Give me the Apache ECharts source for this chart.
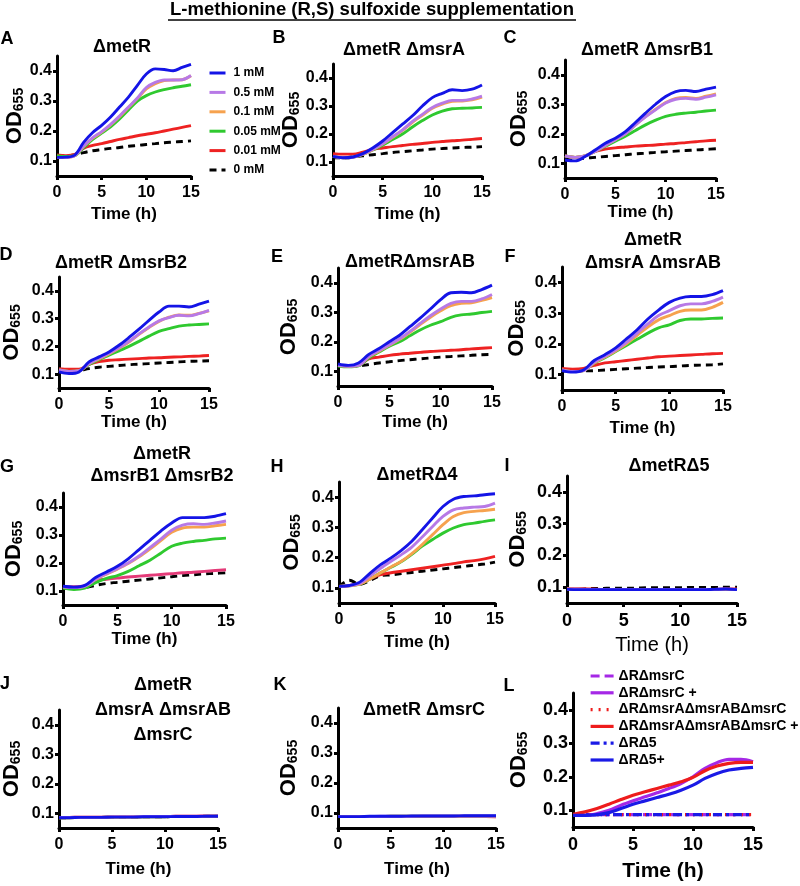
<!DOCTYPE html>
<html><head><meta charset="utf-8">
<script src="https://cdn.jsdelivr.net/npm/echarts@6.0.0/dist/echarts.min.js"></script>
<style>html,body{margin:0;padding:0;background:#fff}#c{width:800px;height:886px}</style>
</head><body><div id="c"></div>
<script>
// ---------- DATA ----------
const hours = [0,1,2,3,4,5,6,7,8,9,10,11,12,13,14,15];
const concNames = ['1 mM','0.5 mM','0.1 mM','0.05 mM','0.01 mM','0 mM'];
const yTickValues = [0.1,0.2,0.3,0.4];
const xTickValues = [0,5,10,15];
const mainTitle = 'L-methionine (R,S) sulfoxide supplementation';

// rows: 1 mM, 0.5 mM, 0.1 mM, 0.05 mM, 0.01 mM, 0 mM
const dataA = [
 [0.112,0.113,0.12,0.163,0.195,0.219,0.247,0.28,0.313,0.352,0.39,0.407,0.405,0.401,0.412,0.422],
 [0.112,0.112,0.118,0.15,0.178,0.198,0.222,0.25,0.28,0.31,0.345,0.362,0.37,0.37,0.371,0.385],
 [0.112,0.112,0.118,0.149,0.176,0.196,0.22,0.248,0.278,0.308,0.34,0.358,0.368,0.37,0.371,0.384],
 [0.118,0.115,0.118,0.145,0.172,0.193,0.214,0.24,0.27,0.3,0.318,0.33,0.338,0.344,0.349,0.354],
 [0.12,0.118,0.122,0.143,0.152,0.158,0.165,0.172,0.178,0.184,0.189,0.194,0.2,0.206,0.212,0.218],
 [0.115,0.117,0.12,0.128,0.134,0.138,0.142,0.145,0.149,0.152,0.155,0.158,0.161,0.163,0.165,0.167]];
const dataB = [
 [0.12,0.115,0.118,0.13,0.15,0.175,0.205,0.235,0.265,0.3,0.33,0.345,0.358,0.355,0.36,0.375],
 [0.12,0.115,0.117,0.128,0.145,0.165,0.19,0.215,0.245,0.27,0.295,0.31,0.32,0.32,0.325,0.335],
 [0.12,0.115,0.117,0.127,0.144,0.164,0.188,0.213,0.242,0.267,0.292,0.307,0.317,0.318,0.322,0.332],
 [0.12,0.115,0.117,0.127,0.143,0.16,0.18,0.2,0.225,0.248,0.268,0.282,0.29,0.292,0.293,0.295],
 [0.13,0.128,0.128,0.135,0.145,0.15,0.155,0.159,0.163,0.166,0.17,0.173,0.176,0.178,0.181,0.184],
 [0.115,0.115,0.118,0.122,0.126,0.13,0.134,0.137,0.14,0.143,0.146,0.148,0.15,0.152,0.153,0.155]];
const dataC = [
 [0.111,0.108,0.123,0.145,0.168,0.185,0.207,0.238,0.27,0.3,0.326,0.343,0.347,0.343,0.351,0.358],
 [0.125,0.12,0.125,0.14,0.16,0.18,0.2,0.23,0.257,0.281,0.304,0.317,0.32,0.317,0.324,0.332],
 [0.125,0.12,0.125,0.14,0.16,0.18,0.2,0.23,0.258,0.283,0.306,0.32,0.323,0.32,0.327,0.335],
 [0.125,0.12,0.125,0.14,0.158,0.175,0.192,0.211,0.23,0.246,0.259,0.266,0.27,0.273,0.277,0.28],
 [0.125,0.12,0.125,0.14,0.148,0.152,0.155,0.158,0.16,0.162,0.165,0.167,0.17,0.173,0.176,0.178],
 [0.115,0.115,0.117,0.12,0.123,0.126,0.129,0.132,0.134,0.137,0.139,0.141,0.143,0.145,0.147,0.149]];
const dataD = [
 [0.108,0.102,0.108,0.144,0.162,0.18,0.204,0.232,0.262,0.294,0.324,0.345,0.345,0.342,0.352,0.363],
 [0.115,0.11,0.112,0.138,0.157,0.175,0.195,0.218,0.245,0.27,0.292,0.304,0.312,0.31,0.318,0.33],
 [0.115,0.11,0.112,0.137,0.155,0.173,0.193,0.216,0.243,0.268,0.29,0.305,0.313,0.312,0.319,0.328],
 [0.115,0.11,0.112,0.135,0.152,0.168,0.184,0.2,0.218,0.237,0.254,0.264,0.273,0.277,0.279,0.281],
 [0.12,0.118,0.118,0.135,0.145,0.15,0.152,0.154,0.156,0.158,0.159,0.161,0.162,0.164,0.165,0.167],
 [0.11,0.11,0.113,0.12,0.125,0.128,0.131,0.134,0.136,0.138,0.14,0.142,0.144,0.146,0.147,0.148]];
const dataE = [
 [0.125,0.12,0.128,0.157,0.177,0.2,0.222,0.251,0.28,0.311,0.343,0.366,0.368,0.366,0.377,0.392],
 [0.12,0.117,0.12,0.15,0.17,0.19,0.21,0.235,0.262,0.288,0.311,0.33,0.337,0.337,0.345,0.36],
 [0.12,0.117,0.12,0.149,0.168,0.188,0.208,0.232,0.258,0.283,0.305,0.322,0.33,0.332,0.34,0.35],
 [0.118,0.115,0.118,0.145,0.165,0.185,0.2,0.22,0.24,0.256,0.268,0.283,0.291,0.294,0.299,0.303],
 [0.12,0.118,0.12,0.142,0.148,0.154,0.158,0.161,0.164,0.167,0.169,0.171,0.173,0.176,0.178,0.18],
 [0.12,0.118,0.118,0.123,0.128,0.132,0.136,0.139,0.142,0.145,0.148,0.15,0.152,0.154,0.156,0.157]];
const dataF = [
 [0.113,0.108,0.115,0.146,0.165,0.187,0.216,0.246,0.281,0.31,0.335,0.349,0.354,0.354,0.36,0.373],
 [0.115,0.11,0.113,0.14,0.16,0.18,0.205,0.235,0.265,0.292,0.308,0.324,0.33,0.33,0.338,0.352],
 [0.115,0.11,0.113,0.138,0.157,0.177,0.2,0.228,0.255,0.278,0.292,0.306,0.31,0.31,0.319,0.335],
 [0.115,0.11,0.113,0.137,0.155,0.175,0.195,0.215,0.235,0.252,0.262,0.276,0.281,0.281,0.283,0.284],
 [0.12,0.118,0.12,0.13,0.138,0.142,0.146,0.15,0.154,0.158,0.16,0.162,0.164,0.166,0.168,0.169],
 [0.112,0.112,0.112,0.113,0.115,0.117,0.119,0.121,0.123,0.125,0.126,0.128,0.13,0.131,0.132,0.135]];
const dataG = [
 [0.117,0.114,0.12,0.148,0.168,0.188,0.215,0.248,0.281,0.314,0.343,0.362,0.362,0.362,0.367,0.376],
 [0.115,0.112,0.117,0.142,0.162,0.18,0.2,0.225,0.255,0.285,0.317,0.335,0.34,0.338,0.343,0.35],
 [0.115,0.112,0.117,0.141,0.16,0.178,0.198,0.222,0.25,0.28,0.31,0.325,0.328,0.328,0.333,0.338],
 [0.11,0.105,0.11,0.13,0.145,0.155,0.17,0.19,0.21,0.235,0.26,0.271,0.277,0.281,0.286,0.289],
 [0.115,0.115,0.118,0.138,0.142,0.146,0.15,0.153,0.156,0.159,0.162,0.165,0.167,0.17,0.173,0.176],
 [0.11,0.11,0.112,0.12,0.127,0.131,0.135,0.139,0.143,0.147,0.151,0.155,0.158,0.161,0.163,0.165]];
const dataH = [
 [0.105,0.108,0.119,0.149,0.177,0.199,0.224,0.254,0.292,0.331,0.369,0.393,0.402,0.404,0.408,0.411],
 [0.105,0.107,0.115,0.14,0.165,0.188,0.21,0.235,0.268,0.303,0.336,0.358,0.364,0.367,0.369,0.38],
 [0.105,0.107,0.112,0.13,0.15,0.169,0.188,0.213,0.243,0.276,0.309,0.336,0.349,0.353,0.356,0.36],
 [0.105,0.107,0.112,0.13,0.15,0.168,0.187,0.211,0.238,0.26,0.281,0.298,0.309,0.314,0.32,0.325],
 [0.105,0.108,0.115,0.13,0.144,0.15,0.155,0.16,0.165,0.17,0.175,0.18,0.186,0.19,0.196,0.204],
 [0.105,0.125,0.112,0.125,0.14,0.143,0.147,0.151,0.155,0.159,0.163,0.167,0.171,0.175,0.179,0.185]];
const dataI = [
 [0.093,0.092,0.092,0.092,0.092,0.092,0.092,0.092,0.092,0.092,0.092,0.092,0.092,0.093,0.094,0.092],
 [0.094,0.094,0.093,0.093,0.093,0.093,0.093,0.093,0.093,0.093,0.093,0.093,0.093,0.093,0.094,0.093],
 [0.094,0.094,0.093,0.093,0.093,0.093,0.093,0.093,0.093,0.093,0.093,0.093,0.093,0.093,0.093,0.093],
 [0.093,0.093,0.093,0.093,0.093,0.093,0.093,0.093,0.093,0.093,0.093,0.093,0.093,0.093,0.093,0.093],
 [0.095,0.096,0.094,0.093,0.093,0.093,0.093,0.093,0.093,0.093,0.093,0.093,0.093,0.093,0.094,0.094],
 [0.095,0.095,0.096,0.096,0.097,0.097,0.097,0.098,0.098,0.098,0.098,0.099,0.099,0.099,0.1,0.1]];
const dataJ = [
 [0.085,0.085,0.086,0.086,0.086,0.087,0.087,0.087,0.088,0.088,0.088,0.089,0.089,0.089,0.09,0.09],
 [0.086,0.086,0.087,0.087,0.087,0.088,0.088,0.088,0.089,0.089,0.089,0.09,0.09,0.09,0.091,0.091],
 [0.085,0.085,0.086,0.086,0.086,0.087,0.087,0.087,0.088,0.088,0.088,0.089,0.089,0.089,0.09,0.09],
 [0.085,0.085,0.086,0.086,0.086,0.087,0.087,0.087,0.088,0.088,0.088,0.089,0.089,0.089,0.09,0.09],
 [0.086,0.086,0.087,0.087,0.087,0.088,0.088,0.088,0.089,0.089,0.089,0.09,0.09,0.09,0.091,0.091],
 [0.085,0.085,0.086,0.086,0.086,0.087,0.087,0.087,0.088,0.088,0.088,0.089,0.089,0.089,0.09,0.09]];
const dataK = [
 [0.088,0.088,0.088,0.089,0.089,0.089,0.089,0.09,0.09,0.09,0.09,0.09,0.091,0.091,0.091,0.091],
 [0.088,0.088,0.088,0.088,0.089,0.089,0.089,0.089,0.09,0.09,0.09,0.09,0.09,0.09,0.09,0.09],
 [0.088,0.088,0.088,0.088,0.088,0.089,0.089,0.089,0.089,0.089,0.089,0.089,0.089,0.089,0.089,0.088],
 [0.088,0.088,0.088,0.088,0.088,0.089,0.089,0.089,0.089,0.089,0.089,0.089,0.089,0.089,0.089,0.089],
 [0.088,0.088,0.088,0.088,0.088,0.088,0.088,0.088,0.088,0.088,0.088,0.088,0.088,0.088,0.088,0.087],
 [0.088,0.088,0.088,0.088,0.088,0.088,0.088,0.088,0.088,0.088,0.088,0.088,0.088,0.088,0.088,0.088]];

const lNames = ['ΔRΔmsrC','ΔRΔmsrC +','ΔRΔmsrAΔmsrABΔmsrC','ΔRΔmsrAΔmsrABΔmsrC +','ΔRΔ5','ΔRΔ5+'];
const dataL = [
 [0.087,0.087,0.087,0.087,0.087,0.087,0.087,0.087,0.087,0.087,0.087,0.087,0.087,0.087,0.087,0.087],
 [0.085,0.085,0.09,0.1,0.115,0.128,0.14,0.152,0.165,0.18,0.2,0.225,0.242,0.252,0.252,0.245],
 [0.087,0.087,0.087,0.087,0.087,0.087,0.087,0.087,0.087,0.087,0.087,0.087,0.087,0.087,0.087,0.087],
 [0.088,0.095,0.105,0.118,0.132,0.145,0.155,0.165,0.175,0.185,0.198,0.218,0.232,0.24,0.243,0.243],
 [0.087,0.087,0.087,0.087,0.087,0.087,0.087,0.087,0.087,0.087,0.087,0.087,0.087,0.087,0.087,0.087],
 [0.085,0.085,0.087,0.093,0.105,0.118,0.128,0.138,0.148,0.16,0.175,0.195,0.21,0.22,0.225,0.228]];

// ---------- STYLE / LAYOUT ----------
const FONT = "'Liberation Sans', Arial, Helvetica, sans-serif";
const concColors = ['#1414e6','#b779e6','#f6a24e','#2fc92f','#ee2222','#000000'];
const concTypes = ['solid','solid','solid','solid','solid',[7,5]];
const lColors = ['#a528e6','#a528e6','#ee1c1c','#ee1c1c','#1a1ae6','#1a1ae6'];
const lTypes = [[9,5],'solid',[2,6],'solid',[9,4,3,4],'solid'];

const panels = [
 {k:'A', d:dataA, g:[57,56,134,120], tick:16, xn:17, xnBold:true, xGap:30, yDist:42, title:['ΔmetR'], tx:122, ty:[47], L:[7,39]},
 {k:'B', d:dataB, g:[333,64,149,112], tick:16, xn:17, xnBold:true, xGap:30, yDist:43, title:['ΔmetR ΔmsrA'], tx:404, ty:[50], L:[279,38]},
 {k:'C', d:dataC, g:[565,60,151,118], tick:16, xn:17, xnBold:true, xGap:24, yDist:48, title:['ΔmetR ΔmsrB1'], tx:647, ty:[50], L:[510,38]},
 {k:'D', d:dataD, g:[59,277,150,111], tick:16, xn:17, xnBold:true, xGap:26, yDist:49, title:['ΔmetR ΔmsrB2'], tx:121, ty:[263], L:[6,255]},
 {k:'E', d:dataE, g:[338,268,154,118], tick:16, xn:17, xnBold:true, xGap:28, yDist:51, title:['ΔmetRΔmsrAB'], tx:410, ty:[262], L:[277,257]},
 {k:'F', d:dataF, g:[562,267,161,123], tick:16, xn:17, xnBold:true, xGap:30, yDist:47, title:['ΔmetR','ΔmsrA ΔmsrAB'], tx:653, ty:[240,263], L:[510,257]},
 {k:'G', d:dataG, g:[63,493,163,112], tick:16, xn:17, xnBold:true, xGap:26, yDist:51, title:['ΔmetR','ΔmsrB1 ΔmsrB2'], tx:162, ty:[454,476], L:[7,467]},
 {k:'H', d:dataH, g:[339,482,156,121], tick:16, xn:17, xnBold:true, xGap:31, yDist:49, title:['ΔmetRΔ4'], tx:417, ty:[475], L:[277,467]},
 {k:'I', d:dataI, g:[567,476,170,127], tick:18, xn:20, xnBold:false, xGap:32, yDist:51, title:['ΔmetRΔ5'], tx:669, ty:[466], L:[507,466]},
 {k:'J', d:dataJ, g:[59,710,159,118], tick:16, xn:17, xnBold:true, xGap:33, yDist:49, title:['ΔmetR','ΔmsrA ΔmsrAB','ΔmsrC'], tx:163, ty:[685,710,735], L:[5,684]},
 {k:'K', d:dataK, g:[338,708,158,120], tick:16, xn:17, xnBold:true, xGap:33, yDist:51, title:['ΔmetR ΔmsrC'], tx:424, ty:[710], L:[280,685]},
 {k:'L', d:dataL, g:[573,693,180,134], tick:18, xn:21, xnBold:true, xGap:34, yDist:56, title:[], tx:0, ty:[], L:[509,686], names:lNames, colors:lColors, types:lTypes}
];

const grids = [], xAxes = [], yAxes = [], series = [], graphics = [];
panels.forEach((p, i) => {
  grids.push({left:p.g[0], top:p.g[1], width:p.g[2], height:p.g[3], containLabel:false});
  const labelFont = {fontFamily:FONT, fontWeight:'bold', fontSize:p.tick, color:'#000'};
  xAxes.push({
    gridIndex:i, type:'value', min:0, max:15, interval:5,
    axisLine:{show:true, onZero:false, lineStyle:{color:'#000', width:3}},
    axisTick:{show:true, length:4, lineStyle:{color:'#000', width:3}},
    axisLabel:Object.assign({margin:9}, labelFont),
    splitLine:{show:false},
    name:'Time (h)', nameLocation:'middle', nameGap:p.xGap,
    nameTextStyle:{fontFamily:FONT, fontWeight:p.xnBold?'bold':'normal', fontSize:p.xn, color:'#000'}
  });
  yAxes.push({
    gridIndex:i, type:'value', min:0.05, max:0.45,
    axisLine:{show:true, onZero:false, lineStyle:{color:'#000', width:3}},
    axisTick:{show:true, length:4, customValues:yTickValues, lineStyle:{color:'#000', width:3}},
    axisLabel:Object.assign({margin:5, customValues:yTickValues, formatter:v => v.toFixed(1)}, labelFont),
    splitLine:{show:false},
    name:'{a|OD}{b|655}', nameLocation:'middle', nameRotate:90, nameGap:p.yDist - 21,
    nameTextStyle:{rich:{
      a:{fontFamily:FONT, fontWeight:'bold', fontSize:22, lineHeight:22, verticalAlign:'top', color:'#000'},
      b:{fontFamily:FONT, fontWeight:'bold', fontSize:14, lineHeight:30, verticalAlign:'middle', color:'#000'}
    }}
  });
  const names = p.names || concNames;
  const colors = p.colors || concColors;
  const types = p.types || concTypes;
  const order = p.k === 'L' ? [0,2,4,1,3,5] : [5,4,3,2,1,0];
  order.forEach(r => {
    let col = colors[r];
    if (p.k === 'G' && r === 4) col = '#e43a78';
    series.push({
      type:'line', name:names[r], xAxisIndex:i, yAxisIndex:i,
      data:hours.map((h, j) => [h, p.d[r][j]]),
      smooth:0.35, symbol:'none', showSymbol:false, silent:true,
      lineStyle:{color:col, width:(p.k==='L')?3.2:2.9, type:types[r]},
      itemStyle:{color:col}
    });
  });
  graphics.push({type:'text', silent:true, style:{text:p.k, x:p.L[0], y:p.L[1], fill:'#000',
    fontFamily:FONT, fontWeight:'bold', fontSize:18, align:'center', verticalAlign:'middle'}});
  p.title.forEach((t, j) => {
    graphics.push({type:'text', silent:true, style:{text:t, x:p.tx, y:p.ty[j], fill:'#000',
      fontFamily:FONT, fontWeight:'bold', fontSize:18, align:'center', verticalAlign:'middle'}});
  });
});

graphics.push({type:'text', silent:true, style:{text:mainTitle, x:372, y:10, fill:'#000',
  fontFamily:FONT, fontWeight:'bold', fontSize:18.5, align:'center', verticalAlign:'middle'}});
graphics.push({type:'line', silent:true, shape:{x1:168, y1:20, x2:576, y2:20}, style:{stroke:'#000', lineWidth:1.5}});

const option = {
  animation:false,
  backgroundColor:'#fff',
  grid:grids, xAxis:xAxes, yAxis:yAxes, series:series, graphic:graphics,
  legend:[
    {data:concNames, orient:'vertical', left:203, top:62, itemWidth:16, itemHeight:14, itemGap:7.4,
     selectedMode:false, lineStyle:{width:3}, itemStyle:{opacity:0, borderWidth:0},
     textStyle:{fontFamily:FONT, fontWeight:'bold', fontSize:12, color:'#000', padding:[0,0,0,3]}},
    {data:lNames, orient:'vertical', left:584, top:664, itemWidth:23, itemHeight:14, itemGap:2.8,
     selectedMode:false, lineStyle:{width:3.2}, itemStyle:{opacity:0, borderWidth:0},
     textStyle:{fontFamily:FONT, fontWeight:'bold', fontSize:14, color:'#000', padding:[0,0,0,0]}}
  ]
};
const chart = echarts.init(document.getElementById('c'), null, {renderer:'canvas', width:800, height:886});
chart.setOption(option);
</script></body></html>
